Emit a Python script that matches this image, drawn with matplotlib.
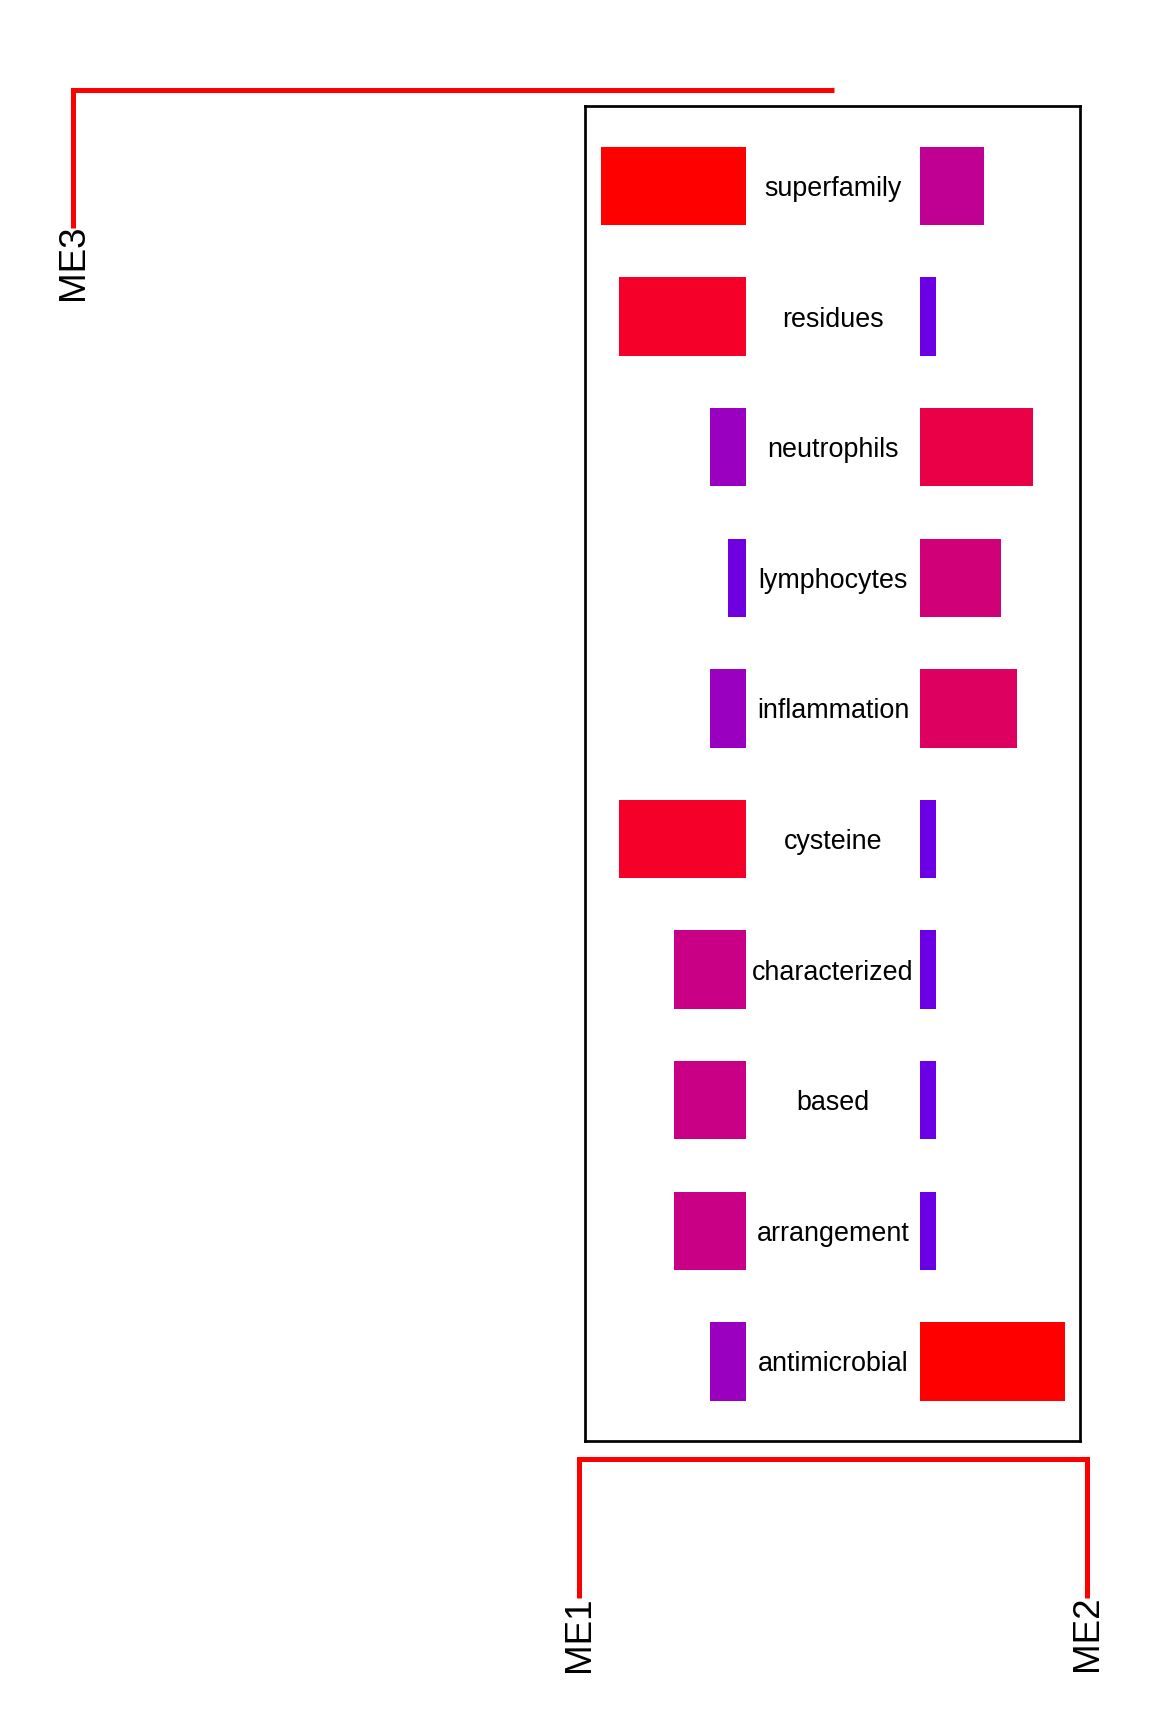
import matplotlib
matplotlib.use("Agg")
import matplotlib.pyplot as plt
from matplotlib.colors import LinearSegmentedColormap
import numpy as np

plt.rcParams['font.family'] = ['Liberation Sans', 'DejaVu Sans']

# ---- data ----
words = ["superfamily", "residues", "neutrophils", "lymphocytes", "inflammation",
         "cysteine", "characterized", "based", "arrangement", "antimicrobial"]
me1_counts = [8, 7, 2, 1, 2, 7, 4, 4, 4, 2]
me2_counts = [4, 1, 7, 5, 6, 1, 1, 1, 1, 9]
module_labels = ["ME1", "ME2", "ME3"]

# ---- derived values ----
me1 = np.array(me1_counts, float) / max(me1_counts)
me2 = np.array(me2_counts, float) / max(me2_counts)

cmap = LinearSegmentedColormap.from_list(
    "ramp",
    [(0.0, "#4800FF"), (0.111, "#6C00E4"), (0.25, "#9900C0"), (0.47, "#C5008C"),
     (0.667, "#DD0060"), (0.83, "#F0003A"), (1.0, "#FF0000")])

W, H = 1152, 1728
fig = plt.figure(figsize=(W / 100, H / 100), dpi=100)
fig.patch.set_facecolor("white")

# background axes in pixel units for dendrogram
bg = fig.add_axes([0, 0, 1, 1])
bg.set_xlim(0, W)
bg.set_ylim(H, 0)
bg.axis("off")

red = "#FF0000"
lw = 3.6
bg.plot([72.5, 72.5, 834], [228, 89.8, 89.8], color=red, lw=lw,
        solid_joinstyle="miter", solid_capstyle="butt")
bg.plot([579, 579, 1086.5, 1086.5], [1597.7, 1459, 1459, 1597.7], color=red, lw=lw,
        solid_joinstyle="miter", solid_capstyle="butt")

lab_fs = 26.5
bg.text(74, 225, module_labels[2], rotation=90, ha="center", va="top", fontsize=lab_fs)
bg.text(580, 1596, module_labels[0], rotation=90, ha="center", va="top", fontsize=lab_fs)
bg.text(1087, 1595, module_labels[1], rotation=90, ha="center", va="top", fontsize=lab_fs)

# word comparison box
left, right, top, bottom = 584.5, 1080.3, 105.8, 1440.5
box = fig.add_axes([left / W, 1 - bottom / H, (right - left) / W, (bottom - top) / H])
box.set_facecolor("none")
center = 833.0
scale = 145.0
box.set_xlim((left - center) / scale, (right - center) / scale)
row0, rowstep = 186.0, 130.6
box.set_ylim((bottom - row0) / rowstep, (top - row0) / rowstep)
box.set_xticks([])
box.set_yticks([])
for s in box.spines.values():
    s.set_linewidth(1.95)
    s.set_color("black")

gap = 0.6
bar_h = 0.6
y = np.arange(len(words))
box.barh(y, -me1, left=-gap, height=bar_h, color=cmap(me1), linewidth=0)
box.barh(y, me2, left=gap, height=bar_h, color=cmap(me2), linewidth=0)
for yi, w in zip(y, words):
    box.text(0, yi, w, ha="center", va="center_baseline", fontsize=19.4, color="black")

fig.savefig("out.png", dpi=100, facecolor="white")
